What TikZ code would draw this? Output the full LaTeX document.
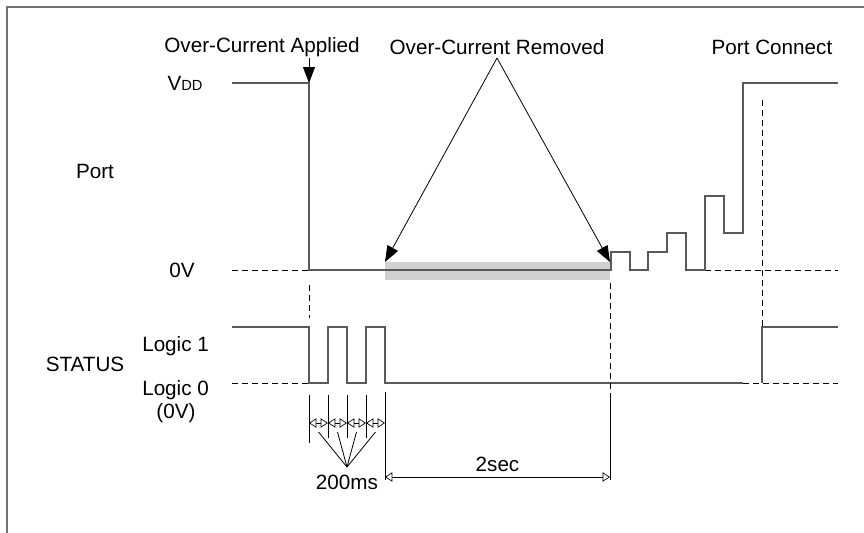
\documentclass[tikz,border=0pt]{standalone}
\usepackage{fontspec}
\setmainfont{Liberation Sans}
\usetikzlibrary{arrows.meta}

\begin{document}
\begin{tikzpicture}[
    x=0.75pt, y=-0.75pt,
    wave/.style={line width=0.9pt, black!65},
    guide/.style={line width=0.7pt, dash pattern=on 4.5pt off 3pt},
    lbl/.style={font=\fontsize{15.5}{17}\selectfont, inner sep=0pt},
    bigarr/.style={-{Triangle[length=12pt,width=9pt]}, line width=0.6pt},
    dimarr/.style={{Triangle[open,length=5.5pt,width=7pt]}-{Triangle[open,length=5.5pt,width=7pt]}, line width=0.5pt},
    tick/.style={line width=0.6pt}
  ]
  \useasboundingbox (0,0) rectangle (864,532);
  \draw[line width=1.6pt, black!55] (7,545) -- (7,7) -- (875,7);

  % labels
  \node[lbl] (applied) at (262,47) {Over-Current Applied};
  \node[lbl] (removed) at (497,47) {Over-Current Removed};
  \node[lbl] (connect) at (772,47) {Port Connect};
  \node[lbl] (vdd) at (185,83) {V{\fontsize{11}{12}\selectfont DD}};
  \node[lbl] (port) at (95,171) {Port};
  \node[lbl] (zerov) at (182,270) {0V};
  \node[lbl] (status) at (85,364) {STATUS};
  \node[lbl, anchor=west] (logicone) at (142,346) {Logic 1};
  \node[lbl, anchor=west] (logiczero) at (142,390) {Logic 0};
  \node[lbl] (zerovb) at (176,413) {(0V)};
  \node[lbl] (ms) at (347,482) {200ms};

  % shaded wait period
  \fill[black!18] (385,262) rectangle (610,280);
  \coordinate (shadeL) at (385,262);
  \coordinate (shadeR) at (610,262);
  \coordinate (apex) at (497,58);
  \coordinate (vddtip) at (309,83);

  % port waveform
  \draw[guide] (232,270) -- (309,270);
  \draw[guide] (705,270) -- (838,270);
  \draw[wave] (232,83) -- (309,83) -- (309,270) -- (611,270) -- (611,252) -- (630,252)
    -- (630,270) -- (648,270) -- (648,252) -- (667,252) -- (667,233) -- (686,233)
    -- (686,270) -- (705,270) -- (705,196) -- (724,196) -- (724,233) -- (743,233)
    -- (743,83) -- (838,83);

  % status waveform
  \draw[guide] (232,383) -- (309,383);
  \draw[guide] (743,383) -- (838,383);
  \draw[wave] (232,327) -- (309,327) -- (309,383) -- (328,383) -- (328,327) -- (347,327)
    -- (347,383) -- (366,383) -- (366,327) -- (385,327) -- (385,383) -- (743,383);
  \draw[wave] (762,383) -- (762,327) -- (838,327);

  % markers
  \draw[guide] (309,285) -- (309,318);
  \draw[guide] (610,283) -- (610,395);
  \draw[guide] (762,100) -- (762,327);

  \draw[bigarr] (309,58) -- (vddtip);
  \draw[bigarr] (apex) -- (shadeL);
  \draw[bigarr] (apex) -- (shadeR);

  % 200ms steps
  \draw[tick] (309,395) -- (309,443);
  \foreach \x in {328,347,366} \draw[tick] (\x,395) -- (\x,438);
  \coordinate (fanbase) at (347,467);
  \foreach \x [count=\i] in {309,328,347,366} {
    \draw[dimarr] (\x,423) -- (\x+19,423);
    \coordinate (fan\i) at (\x+9.5,432);
    \draw[tick] (fanbase) -- (fan\i);
  }

  % 2sec
  \draw[tick] (385,392) -- (385,480);
  \draw[tick] (610,395) -- (610,480);
  \coordinate (secL) at (385,477);
  \coordinate (secR) at (610,477);
  \draw[dimarr] (secL) -- (secR) node[lbl, midway, above=4pt] (sec) {2sec};
\end{tikzpicture}
\end{document}
